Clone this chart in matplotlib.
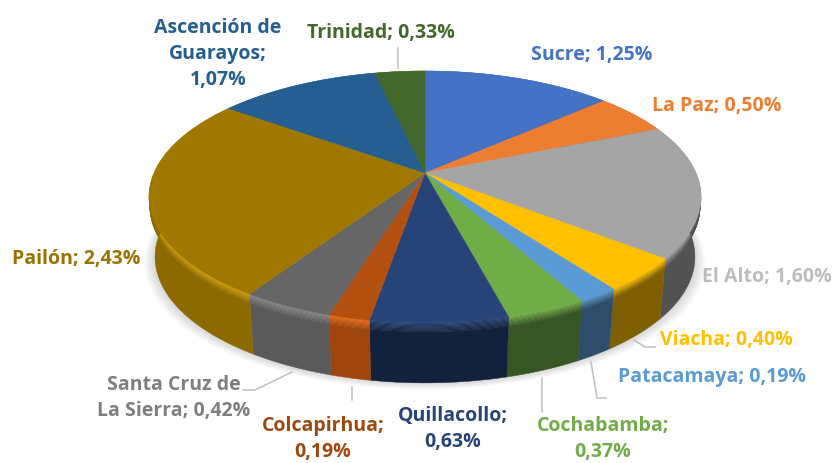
#!/usr/bin/env python3
"""3D-look pie of percentages per municipality, drawn in picture pixels."""
import numpy as np
import matplotlib; matplotlib.use("Agg")
import matplotlib.pyplot as plt
from matplotlib.colors import to_rgb

names=["Sucre","La Paz","El Alto","Viacha","Patacamaya","Cochabamba","Quillacollo",
       "Colcapirhua","Santa Cruz de\nLa Sierra","Pailón","Ascención de\nGuarayos","Trinidad"]
values=[1.25,0.50,1.60,0.40,0.19,0.37,0.63,0.19,0.42,2.43,1.07,0.33]
colors=["#4472C4","#ED7D31","#A5A5A5","#FFC000","#5B9BD5","#70AD47","#264478",
        "#B3500F","#666666","#A07800","#255E91","#43682B"]
label_text=["Sucre; 1,25%","La Paz; 0,50%","El Alto; 1,60%","Viacha; 0,40%","Patacamaya; 0,19%",
            "Cochabamba;\n0,37%","Quillacollo;\n0,63%","Colcapirhua;\n0,19%","Santa Cruz de\nLa Sierra; 0,42%",
            "Pailón; 2,43%","Ascención de\nGuarayos;\n1,07%","Trinidad; 0,33%"]
label_pos=[(592,55),(717,106),(767,277),(726,340),(712,377),(603,439),(453,429),(323,439),(174,398),(76,259),(218,54),(381,33)]
label_col=["#4472C4","#ED7D31","#BDBDBD","#FFC000","#5B9BD5","#70AD47","#264478",
           "#9E480E","#7F7F7F","#997300","#255E91","#43682B"]
leaders=[[(398,48),(398,68)],[(243,390),(255,390),(292,372)],[(352,387),(352,400)],[(542,378),(542,412)],
         [(591,362),(597,398),(606,398)],[(634,340),(645,347),(655,347)]]

CX,CY,R,A,K,DEPTH=425,173,271,121.4,0.19,60
def proj(th,h=0.0):
    # th clockwise from 12 o'clock, h = 0 top face .. 1 bottom of the rim
    d=1+K*np.cos(th)
    return CX+R*(1-0.022*h)*np.sin(th)/d, CY+h*DEPTH-A*np.cos(th)/d
def shade(c,f):
    return tuple(np.clip(np.array(to_rgb(c))*f,0,1))

plt.rcParams["font.family"]=["Open Sans","DejaVu Sans"]
fig=plt.figure(figsize=(8.37,4.63),dpi=100)
ax=fig.add_axes([0,0,1,1]); ax.set_xlim(0,837); ax.set_ylim(463,0); ax.axis("off")

edges=np.cumsum([0]+values)/sum(values)*2*np.pi
# soft shadow under the disc
ring=np.linspace(0,2*np.pi,240)
for s in np.linspace(12,1,10):
    x,y=proj(ring,1.0)
    ax.fill(CX+(x-CX)*(1+s/300),y+s*0.55,color="k",alpha=0.014,lw=0,zorder=1)
# rim: bevel bands on top then one flat band; bright on left slices, dark fade on the others
hs=np.r_[np.linspace(0,0.15,9),1.0]
for i,c in enumerate(colors):
    th=np.linspace(edges[i],edges[i+1],max(int((edges[i+1]-edges[i])*80),4))
    left=np.sin((edges[i]+edges[i+1])/2)<0
    for h0,h1 in zip(hs[:-1],hs[1:]):
        t=min(h0/0.15,1)
        col=shade(c,1.3-0.42*t) if left else shade(c,0.95-0.45*t)
        x0,y0=proj(th,h0); x1,y1=proj(th[::-1],h1)
        ax.fill(np.r_[x0,x1],np.r_[y0,y1],color=col,lw=0.3,zorder=2)
# top face
for i,c in enumerate(colors):
    th=np.linspace(edges[i],edges[i+1],max(int((edges[i+1]-edges[i])*80),4))
    x,y=proj(th)
    ax.fill(np.r_[CX,x],np.r_[CY,y],color=c,lw=0.3,zorder=3)
for pts in leaders:
    ax.plot(*zip(*pts),color="#BFBFBF",lw=1.1,zorder=2)
for t,(x,y),c in zip(label_text,label_pos,label_col):
    ax.text(x,y,t,color=c,fontsize=14,fontweight="bold",ha="center",va="center",linespacing=1.38,zorder=5)
fig.savefig("out.png",dpi=100)
